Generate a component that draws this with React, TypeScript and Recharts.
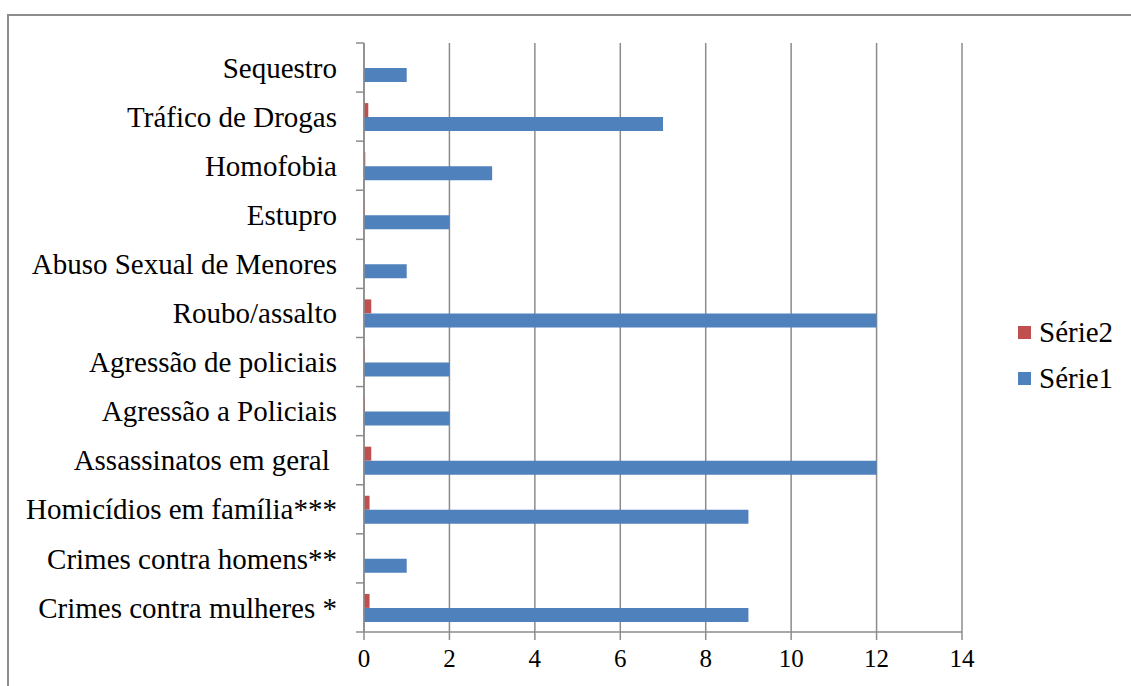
import React from 'react';
import { Bar, BarChart, CartesianGrid, Legend, XAxis, YAxis } from 'recharts';

// top to bottom, as in the picture
const categories = [
  'Sequestro',
  'Tráfico de Drogas',
  'Homofobia',
  'Estupro',
  'Abuso Sexual de Menores',
  'Roubo/assalto',
  'Agressão de policiais',
  'Agressão a Policiais',
  'Assassinatos em geral\u00a0',
  'Homicídios em família***',
  'Crimes contra homens**',
  'Crimes contra mulheres *',
];
const serie1 = [1, 7, 3, 2, 1, 12, 2, 2, 12, 9, 1, 9];
const serie2 = [0, 0.1, 0.03, 0.015, 0, 0.17, 0.02, 0.02, 0.17, 0.13, 0, 0.13];
const xTicks = [0, 2, 4, 6, 8, 10, 12, 14];

const data = categories.map((name, i) => ({ name, s1: serie1[i], s2: serie2[i] }));

const W = 1131;
const H = 686;
const TOP = 43;
const AXIS_X = 364;
const X_H = 54;
const BAND = (H - TOP - X_H) / categories.length;
const GRID = '#8c8c8c';
const FONT = '"Liberation Serif", "Times New Roman", serif';

function CategoryTick(props: any) {
  const { x, y, payload, index } = props;
  const last = index === categories.length - 1;
  return (
    <g>
      <line x1={AXIS_X - 8} x2={AXIS_X} y1={y - BAND / 2} y2={y - BAND / 2} stroke={GRID} strokeWidth={1.5} />
      {last && (
        <line x1={AXIS_X - 8} x2={AXIS_X} y1={y + BAND / 2} y2={y + BAND / 2} stroke={GRID} strokeWidth={1.5} />
      )}
      <text x={x} y={y} dy="0.35em" textAnchor="end" fill="#000" fontSize={29} fontFamily={FONT} style={{ whiteSpace: 'pre' }}>
        {payload.value}
      </text>
    </g>
  );
}

function LegendBox({ payload }: any) {
  // Série2 above Série1, like the reference
  const items = [...(payload || [])].sort((a: any, b: any) => String(b.value).localeCompare(String(a.value)));
  return (
    <div style={{ fontFamily: FONT, fontSize: 29, color: '#000' }}>
      {items.map((p: any) => (
        <div key={p.value} style={{ display: 'flex', alignItems: 'center', height: 46 }}>
          <span style={{ width: 13, height: 13, background: p.color, marginRight: 8, display: 'inline-block' }} />
          <span>{p.value}</span>
        </div>
      ))}
    </div>
  );
}

export default function App() {
  return (
    <div style={{ position: 'absolute', left: 0, top: 0, width: W, height: H, background: '#fff', overflow: 'hidden' }}>
      <div
        style={{
          position: 'absolute',
          left: 7,
          top: 14,
          width: W,
          height: H,
          borderTop: `2px solid ${GRID}`,
          borderLeft: `2px solid ${GRID}`,
        }}
      />
      <div style={{ position: 'absolute', left: 0, top: 0 }}>
        <BarChart
          width={W}
          height={H}
          data={data}
          layout="vertical"
          margin={{ top: TOP, right: 169, bottom: 0, left: 0 }}
          barGap={0}
          barSize={14}
        >
          <CartesianGrid horizontal={false} stroke={GRID} strokeWidth={1.5} />
          <XAxis
            type="number"
            domain={[0, 14]}
            ticks={xTicks}
            interval={0}
            height={X_H}
            tickSize={8}
            tickMargin={9}
            axisLine={{ stroke: GRID, strokeWidth: 1.5 }}
            tickLine={{ stroke: GRID, strokeWidth: 1.5 }}
            tick={{ fill: '#000', fontSize: 25, fontFamily: FONT }}
          />
          <YAxis
            type="category"
            dataKey="name"
            width={AXIS_X}
            interval={0}
            tickSize={8}
            tickMargin={19}
            tickLine={false}
            axisLine={{ stroke: GRID, strokeWidth: 1.5 }}
            tick={<CategoryTick />}
          />
          <Legend
            content={<LegendBox />}
            wrapperStyle={{ position: 'absolute', left: 1018, top: 309, width: 120, height: 0, overflow: 'visible' }}
          />
          <Bar dataKey="s2" name="Série2" fill="#C0504D" isAnimationActive={false} />
          <Bar dataKey="s1" name="Série1" fill="#4F81BD" isAnimationActive={false} />
        </BarChart>
      </div>
    </div>
  );
}
